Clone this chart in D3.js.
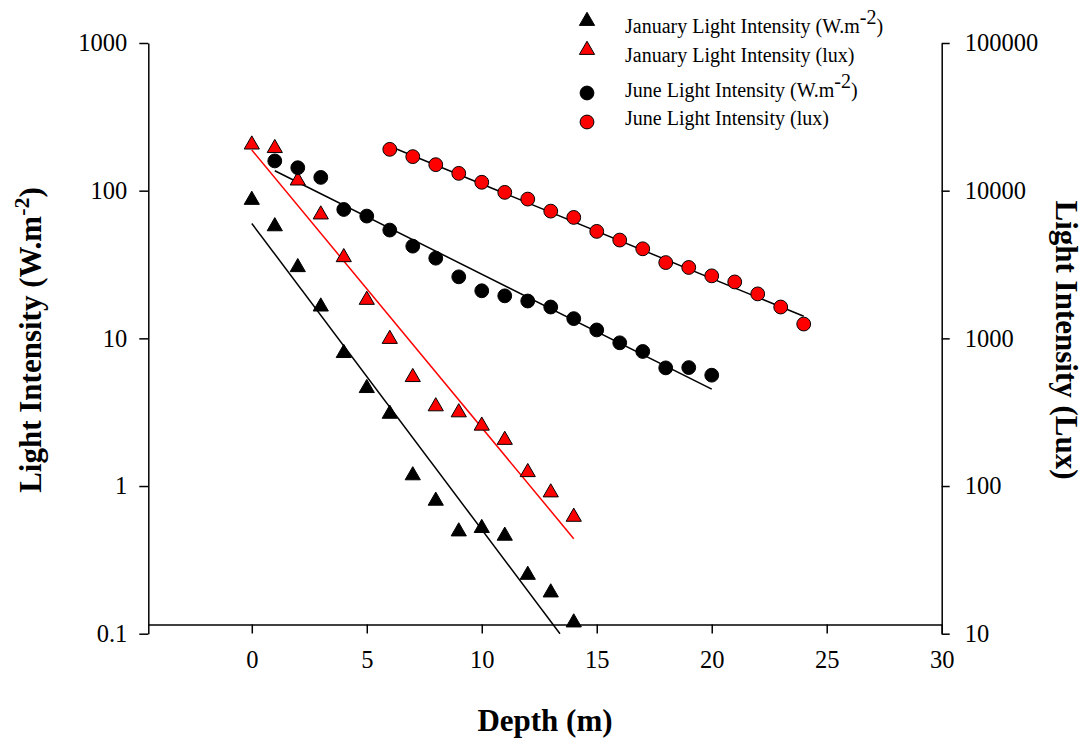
<!DOCTYPE html>
<html><head><meta charset="utf-8">
<script src="https://cdn.jsdelivr.net/npm/d3@7/dist/d3.min.js"></script>
<style>
html,body{margin:0;padding:0;background:#fff;}
svg{display:block;font-family:"Liberation Serif","Times New Roman",serif;}
</style></head><body>
<svg id="chart" width="1083" height="742"></svg>
<script>
// ---- data ----
const depthJan = [0,1,2,3,4,5,6,7,8,9,10,11,12,13,14];
const janWm2 = [86.5,57.3,30.3,16.4,7.94,4.6,3.08,1.18,0.794,0.492,0.519,0.46,0.25,0.19,0.119];
const janLux = [20500,19400,11700,6890,3540,1820,990,546,346,315,256,205,124,90.4,61.8];
const depthJuneW = [1,2,3,4,5,6,7,8,9,10,11,12,13,14,15,16,17,18,19,20];
const juneWm2 = [159,143,123,74.6,67.3,54.1,42.1,34.9,26.1,21.0,19.4,17.9,16.3,13.6,11.4,9.33,8.15,6.31,6.34,5.63];
const depthJuneLux = [6,7,8,9,10,11,12,13,14,15,16,17,18,19,20,21,22,23,24];
const juneLux = [19050,17000,15000,13100,11400,9740,8770,7270,6590,5300,4630,4040,3260,3020,2650,2410,2000,1630,1250];
// fitted regression line end points
const fitJanW = [[0,60],[13.4,0.1]];
const fitJanLux = [[0,18860],[14,44]];
const fitJuneW = [[1,136.5],[20,4.53]];
const fitJuneLux = [[6,20000],[24,1410]];
const xTicks = [0,5,10,15,20,25,30];
const yLeftTicks = [0.1,1,10,100,1000];
const yRightTicks = [10,100,1000,10000,100000];
const legendLabels = ["January Light Intensity (W.m", "January Light Intensity (lux)", "June Light Intensity (W.m", "June Light Intensity (lux)"];

// ---- layout ----
const svg = d3.select("#chart");
const L = 148.3, R = 941.7, T = 43, B = 633.7, XAXIS_Y = 624.5;
const x = d3.scaleLinear().domain([-4.5,30]).range([L,R]);
const yL = d3.scaleLog().domain([0.1,1000]).range([B,T]);
const yR = d3.scaleLog().domain([10,100000]).range([B,T]);

const fmt = d => (d < 1 ? String(d) : String(Math.round(d)));

function styleAxis(g){
  g.select(".domain").attr("stroke","#000").attr("stroke-width",1.5);
  g.selectAll(".tick line").attr("stroke","#000").attr("stroke-width",1.5);
  g.selectAll(".tick text").attr("font-size",24.5).attr("fill","#000").attr("font-family","Liberation Serif, Times New Roman, serif");
}

const gL = svg.append("g").attr("transform",`translate(${L},0)`)
  .call(d3.axisLeft(yL).tickValues(yLeftTicks).tickFormat(fmt).tickSize(9).tickPadding(12).tickSizeOuter(0));
styleAxis(gL);
const gR = svg.append("g").attr("transform",`translate(${R},0)`)
  .call(d3.axisRight(yR).tickValues(yRightTicks).tickFormat(fmt).tickSize(8).tickPadding(15).tickSizeOuter(0));
styleAxis(gR);
const gX = svg.append("g").attr("transform",`translate(0,${XAXIS_Y})`)
  .call(d3.axisBottom(x).tickValues(xTicks).tickFormat(d3.format("d")).tickSize(9).tickPadding(17).tickSizeOuter(0));
styleAxis(gX);

// ---- regression lines ----
const lineL = d3.line().x(d=>x(d[0])).y(d=>yL(d[1]));
const lineR = d3.line().x(d=>x(d[0])).y(d=>yR(d[1]));
svg.append("path").attr("d",lineL(fitJanW)).attr("stroke","#000").attr("stroke-width",1.5).attr("fill","none");
svg.append("path").attr("d",lineR(fitJanLux)).attr("stroke","#ff0000").attr("stroke-width",1.5).attr("fill","none");
svg.append("path").attr("d",lineL(fitJuneW)).attr("stroke","#000").attr("stroke-width",1.5).attr("fill","none");
svg.append("path").attr("d",lineR(fitJuneLux)).attr("stroke","#000").attr("stroke-width",1.5).attr("fill","none");

// ---- markers ----
const tri = d3.symbol().type(d3.symbolTriangle).size(100);
const circ = d3.symbol().type(d3.symbolCircle).size(150);

svg.append("g").selectAll("path").data(depthJan.map((d,i)=>[d,janWm2[i]])).join("path")
  .attr("d",tri).attr("transform",d=>`translate(${x(d[0])},${yL(d[1])})`)
  .attr("fill","#000").attr("stroke","#000").attr("stroke-width",1);
svg.append("g").selectAll("path").data(depthJan.map((d,i)=>[d,janLux[i]])).join("path")
  .attr("d",tri).attr("transform",d=>`translate(${x(d[0])},${yR(d[1])})`)
  .attr("fill","#ff0000").attr("stroke","#000").attr("stroke-width",1);
svg.append("g").selectAll("path").data(depthJuneW.map((d,i)=>[d,juneWm2[i]])).join("path")
  .attr("d",circ).attr("transform",d=>`translate(${x(d[0])},${yL(d[1])})`)
  .attr("fill","#000").attr("stroke","#000").attr("stroke-width",1);
svg.append("g").selectAll("path").data(depthJuneLux.map((d,i)=>[d,juneLux[i]])).join("path")
  .attr("d",circ).attr("transform",d=>`translate(${x(d[0])},${yR(d[1])})`)
  .attr("fill","#ff0000").attr("stroke","#000").attr("stroke-width",1);

// ---- legend ----
const legSymY = [21, 50, 93, 122];
const legTextY = [33, 62, 97, 125];
const legSym = [
  {s:tri, fill:"#000"}, {s:tri, fill:"#ff0000"}, {s:circ, fill:"#000"}, {s:circ, fill:"#ff0000"}
];
const leg = svg.append("g");
legendLabels.forEach((lab,i)=>{
  leg.append("path").attr("d",legSym[i].s).attr("transform",`translate(587,${legSymY[i]})`)
    .attr("fill",legSym[i].fill).attr("stroke","#000").attr("stroke-width",1);
  const t = leg.append("text").attr("x",625).attr("y",legTextY[i]).attr("font-size",20).attr("fill","#000");
  t.append("tspan").text(lab);
  if (i===0 || i===2){
    t.append("tspan").attr("dy",-9).attr("font-size",20).text("-2");
    t.append("tspan").attr("dy",9).text(")");
  }
});

// ---- axis titles ----
const tL = svg.append("text").attr("transform","translate(41,340) rotate(-90)")
  .attr("text-anchor","middle").attr("font-size",31).attr("font-weight","bold").attr("fill","#000");
tL.append("tspan").text("Light Intensity (W.m");
tL.append("tspan").attr("dy",-12).attr("font-size",22).text("-2");
tL.append("tspan").attr("dy",12).text(")");

svg.append("text").attr("transform","translate(1056,340) rotate(90)")
  .attr("text-anchor","middle").attr("font-size",31).attr("font-weight","bold").attr("fill","#000")
  .text("Light Intensity (Lux)");

svg.append("text").attr("x",545).attr("y",731).attr("text-anchor","middle")
  .attr("font-size",31).attr("font-weight","bold").attr("fill","#000").text("Depth (m)");
</script>
</body></html>
